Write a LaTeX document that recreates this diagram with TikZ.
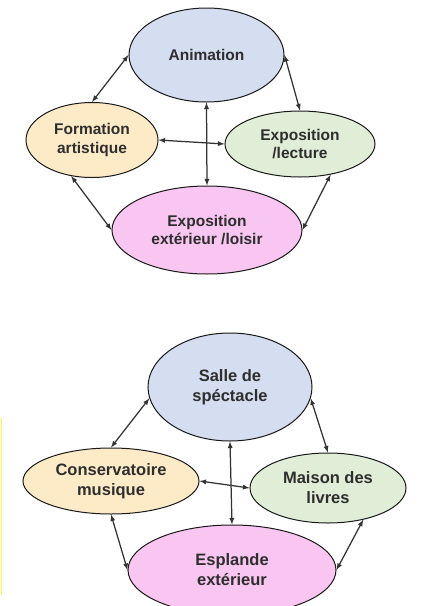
\documentclass[tikz,border=0pt]{standalone}
\usepackage{fontspec}
\setsansfont{Liberation Sans}
\usetikzlibrary{shapes.geometric}
\definecolor{txtgray}{HTML}{2E2E2E}
\definecolor{bluefill}{HTML}{D5DDF0}
\definecolor{yellowfill}{HTML}{FDEBC8}
\definecolor{greenfill}{HTML}{E1EED7}
\definecolor{pinkfill}{HTML}{F9C6F1}
\begin{document}
\begin{tikzpicture}[x=1pt, y=-1pt, >=latex,
      bubble/.style={ellipse, draw=black!90, line width=1pt, inner sep=0pt, align=center,
                     text=txtgray, font=\sffamily\bfseries},
      top/.style={bubble, font=\sffamily\bfseries\fontsize{15.5}{18.5}\selectfont},
      bot/.style={bubble, font=\sffamily\bfseries\fontsize{16.5}{20}\selectfont},
      anim/.style={fill=bluefill},
      form/.style={fill=yellowfill},
      expo/.style={fill=greenfill},
      ext/.style={fill=pinkfill},
      link/.style={<->, line width=1.25pt, draw=black!80}]
    \useasboundingbox (0,0) rectangle (423,606);
    % upper diagram
    \node[top, anim, minimum width=155pt, minimum height=94pt] (an) at (206.5,55)  {Animation};
    \node[top, form, minimum width=132pt, minimum height=75pt] (fa) at (92,140)    {Formation\\artistique};
    \node[top, expo, minimum width=150pt, minimum height=66pt] (el) at (300,144)   {Exposition\\/lecture};
    \node[top, ext,  minimum width=190pt, minimum height=88pt] (ex) at (207,230)   {Exposition\\extérieur /loisir};
    \draw[link] (fa.north) -- (an.west);
    \draw[link] (an.east) -- (el.north);
    \draw[link] (an.south) -- (ex.north);
    \draw[link] (fa.east) -- (el.west);
    \draw[link] (fa.-120) -- (ex.west);
    \draw[link] (el.-45) -- (ex.east);
    % lower diagram
    \draw[yellow!70, line width=1pt] (1.5,418) -- (1.5,595);
    \node[bot, anim, minimum width=164pt, minimum height=108pt] (ss) at (230,387) {Salle de\\spéctacle};
    \node[bot, form, minimum width=176pt, minimum height=66pt]  (cm) at (111,481) {Conservatoire\\musique};
    \node[bot, expo, minimum width=156pt, minimum height=70pt]  (ml) at (328,488) {Maison des\\livres};
    \node[bot, ext,  minimum width=208pt, minimum height=90pt]  (ee) at (232,570) {Esplande\\extérieur};
    \draw[link] (cm.north) -- (ss.188);
    \draw[link] (ss.-8) -- (ml.north);
    \draw[link] (ss.south) -- (ee.north);
    \draw[link] (cm.east) -- (ml.west);
    \draw[link] (cm.south) -- (ee.west);
    \draw[link] (ml.-42) -- (ee.east);
  \end{tikzpicture}
\end{document}
